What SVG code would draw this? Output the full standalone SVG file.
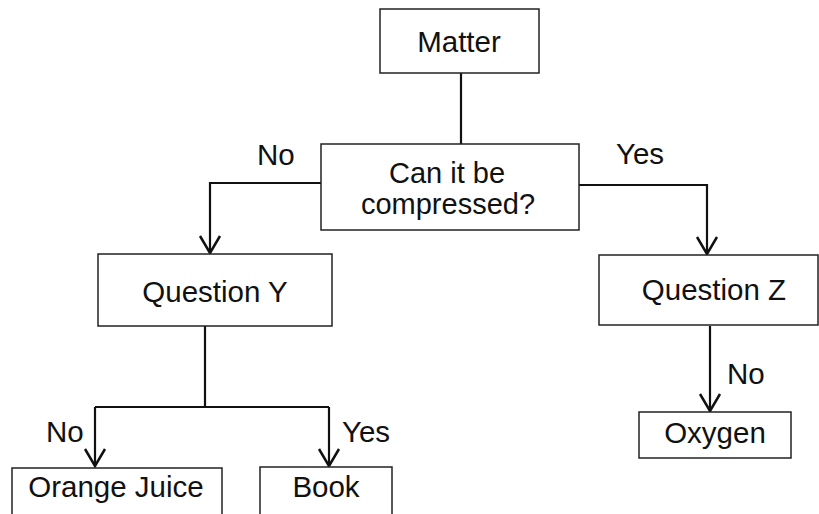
<svg xmlns="http://www.w3.org/2000/svg" width="819" height="514" viewBox="0 0 819 514">
<style>
.box{fill:#fff;stroke:#222;stroke-width:1.5}
.t{font-family:"Liberation Sans",Arial,sans-serif;font-size:29.5px;fill:#111;text-anchor:middle}
.l{font-family:"Liberation Sans",Arial,sans-serif;font-size:29.5px;fill:#111}
.c{fill:none;stroke:#111;stroke-width:2.2}
</style>
<defs>
<marker id="v" viewBox="-20 -12 22 24" markerWidth="22" markerHeight="24" refX="0" refY="0" orient="auto" markerUnits="userSpaceOnUse" overflow="visible">
<path d="M-17,-10 L0,0 L-17,10" fill="none" stroke="#111" stroke-width="2.5"/>
</marker>
</defs>
<rect width="819" height="514" fill="#fff"/>
<g id="connectors">
<path class="c" d="M461,73 V144"/>
<path class="c" d="M321,183 H210 V253" marker-end="url(#v)"/>
<path class="c" d="M579,185 H707 V254" marker-end="url(#v)"/>
<path class="c" d="M710,326 V411" marker-end="url(#v)"/>
<path class="c" d="M205,326 V407"/>
<path class="c" d="M95,407 H329"/>
<path class="c" d="M95,407 V466" marker-end="url(#v)"/>
<path class="c" d="M329,407 V466" marker-end="url(#v)"/>
<text class="l" x="257" y="165">No</text>
<text class="l" x="616" y="164">Yes</text>
<text class="l" x="727" y="384">No</text>
<text class="l" x="46" y="442">No</text>
<text class="l" x="342" y="442">Yes</text>
</g>
<g id="matter"><rect class="box" x="380" y="9" width="159" height="64"/><text class="t" x="459" y="52">Matter</text></g>
<g id="compress"><rect class="box" x="321" y="144" width="258" height="86"/><text class="t" x="447" y="183" style="font-size:29px">Can it be</text><text class="t" x="448" y="214" style="font-size:29px">compressed?</text></g>
<g id="questionY"><rect class="box" x="98" y="254" width="234" height="72"/><text class="t" x="215" y="302">Question Y</text></g>
<g id="questionZ"><rect class="box" x="599" y="255" width="219" height="70"/><text class="t" x="714" y="300">Question Z</text></g>
<g id="oxygen"><rect class="box" x="639" y="412" width="152" height="46"/><text class="t" x="715" y="443">Oxygen</text></g>
<g id="orange"><rect class="box" x="12" y="468" width="210" height="50"/><text class="t" x="116" y="497">Orange Juice</text></g>
<g id="book"><rect class="box" x="260" y="467" width="132" height="51"/><text class="t" x="326" y="497">Book</text></g>
</svg>
